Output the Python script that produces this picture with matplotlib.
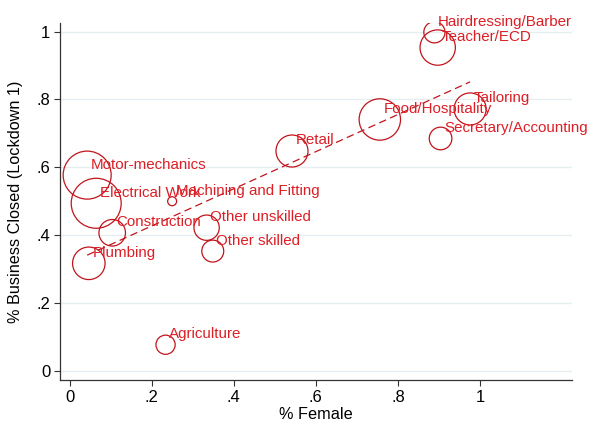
import numpy as np
import matplotlib.pyplot as plt

plt.rcParams['font.family'] = ['Liberation Sans', 'DejaVu Sans']

sectors = ['Hairdressing/Barber', 'Teacher/ECD', 'Tailoring', 'Food/Hospitality',
           'Secretary/Accounting', 'Retail', 'Motor-mechanics', 'Electrical Work',
           'Machining and Fitting', 'Construction', 'Other unskilled', 'Other skilled',
           'Plumbing', 'Agriculture']
pct_female = np.array([0.889, 0.897, 0.976, 0.756, 0.904, 0.542, 0.043, 0.065,
                       0.250, 0.104, 0.334, 0.349, 0.047, 0.234])
pct_closed = np.array([0.998, 0.953, 0.772, 0.741, 0.685, 0.648, 0.577, 0.494,
                       0.500, 0.407, 0.422, 0.353, 0.317, 0.077])
n_firms = np.array([28, 78, 64, 107, 32, 64, 144, 156, 5, 44, 40, 30, 66, 23])

circle_red = '#c0141c'
text_red = '#dc1e26'

fig = plt.figure(figsize=(5.89, 4.22), dpi=100)
ax = fig.add_axes([0.102, 0.0995, 0.869, 0.8465])

# hollow markers, area proportional to number of firms
ax.scatter(pct_female, pct_closed, s=8.3 * n_firms, facecolors='none',
           edgecolors=circle_red, linewidths=0.9, zorder=3)

for name, x, y in zip(sectors, pct_female, pct_closed):
    ax.annotate(name, (x, y), xytext=(2.6, 7.6), textcoords='offset points',
                ha='left', va='center', color=text_red, fontsize=10.9, zorder=4)

# linear fit over the observed range
b, a = np.polyfit(pct_female, pct_closed, 1)
xs = np.array([pct_female.min(), pct_female.max()])
ax.plot(xs, a + b * xs, color=circle_red, lw=0.9, ls=(0, (6, 3.5)), zorder=2)

ax.set_xlim(-0.023, 1.224)
ax.set_ylim(-0.027, 1.026)
ax.set_xticks([0, 0.2, 0.4, 0.6, 0.8, 1])
ax.set_xticklabels(['0', '.2', '.4', '.6', '.8', '1'])
ax.set_yticks([0, 0.2, 0.4, 0.6, 0.8, 1])
ax.set_yticklabels(['0', '.2', '.4', '.6', '.8', '1'])
ax.tick_params(labelsize=12, length=4, width=0.8, color='#333333', pad=3)
ax.yaxis.grid(True, color='#e6eef0', lw=1)
ax.set_axisbelow(True)

for side in ['top', 'right']:
    ax.spines[side].set_visible(False)
for side in ['left', 'bottom']:
    ax.spines[side].set_color('#333333')
    ax.spines[side].set_linewidth(0.9)

ax.set_xlabel('% Female', fontsize=11.7, labelpad=1.8)
ax.set_ylabel('% Business Closed (Lockdown 1)', fontsize=11.7, labelpad=9.5)

fig.savefig('out.png', dpi=100)
